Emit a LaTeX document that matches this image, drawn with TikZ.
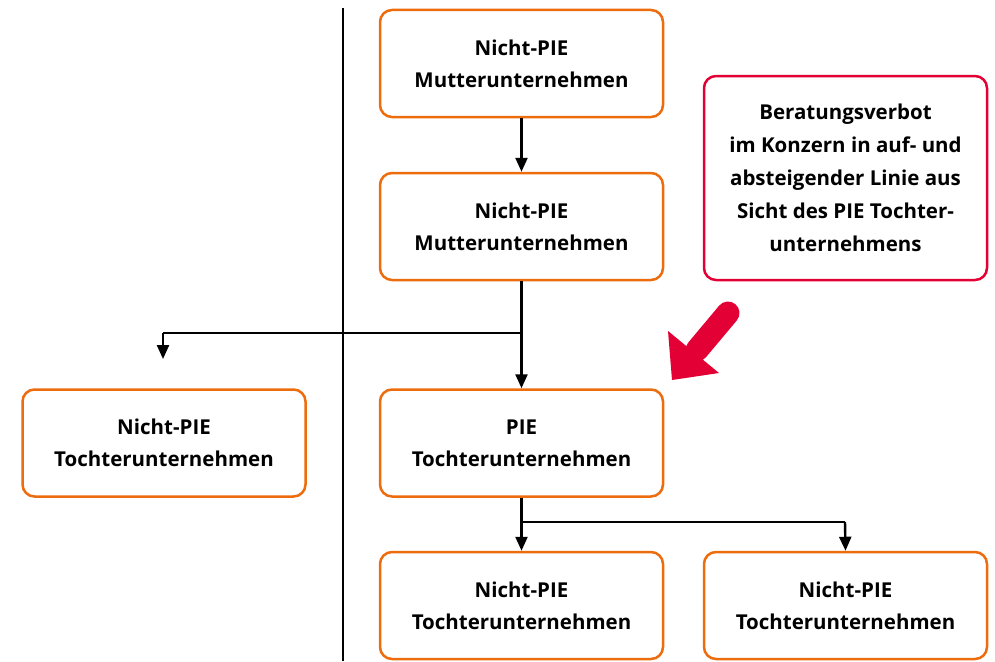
\documentclass[tikz,border=0pt]{standalone}
\usepackage{fontspec}
\setmainfont{Open Sans}
\usetikzlibrary{arrows.meta}
\definecolor{boxorange}{RGB}{236,108,14}
\definecolor{boxred}{RGB}{226,0,52}
\tikzset{
  orgbox/.style={draw=boxorange, line width=2.5pt, rounded corners=12pt, minimum width=283pt, minimum height=107pt, align=center, font=\bfseries\fontsize{20.5}{32}\selectfont, inner sep=0pt},
  notebox/.style={draw=boxred, line width=2.5pt, rounded corners=12pt, minimum width=283pt, minimum height=204pt, align=center, font=\bfseries\fontsize{20.5}{33}\selectfont, inner sep=0pt},
  link/.style={line width=2.4pt, -{Triangle[length=14pt,width=12pt]}},
  plain/.style={line width=2.4pt}
}
\begin{document}
\begin{tikzpicture}[x=1pt,y=-1pt]
\useasboundingbox (0,0) rectangle (995,661);
\draw[line width=1.2pt] (343,8) -- (343,661);
\node[orgbox] (m1) at (521.5,63.5) {Nicht-PIE\\Mutterunternehmen};
\node[orgbox] (m2) at (521.5,226.5) {Nicht-PIE\\Mutterunternehmen};
\node[orgbox] (pie) at (521.5,443) {PIE\\Tochterunternehmen};
\node[orgbox] (lt) at (164,443) {Nicht-PIE\\Tochterunternehmen};
\node[orgbox] (b1) at (521.5,605.5) {Nicht-PIE\\Tochterunternehmen};
\node[orgbox] (b2) at (845.5,605.5) {Nicht-PIE\\Tochterunternehmen};
\node[notebox] (note) at (845.5,178) {Beratungsverbot\\im Konzern in auf- und\\absteigender Linie aus\\Sicht des PIE Tochter-\\unternehmens};
\coordinate (j1) at (522,333);
\coordinate (j1l) at (163,333);
\coordinate (j1e) at (163,359);
\coordinate (j2) at (522,522);
\coordinate (j2r) at (845,522);
\draw[link] (m1.south) -- (m2.north);
\draw[link] (m2.south) -- (pie.north);
\draw[plain] (j1) -- (j1l);
\draw[link] (j1l) -- (j1e);
\draw[link] (pie.south) -- (b1.north);
\draw[plain] (j2) -- (j2r);
\draw[link] (j2r) -- (b2.north);
\draw[boxred, line width=23pt, line cap=round] (728,313) -- (697,350);
\fill[boxred] (668,331) -- (719,373) -- (672,380) -- cycle;
\end{tikzpicture}
\end{document}
